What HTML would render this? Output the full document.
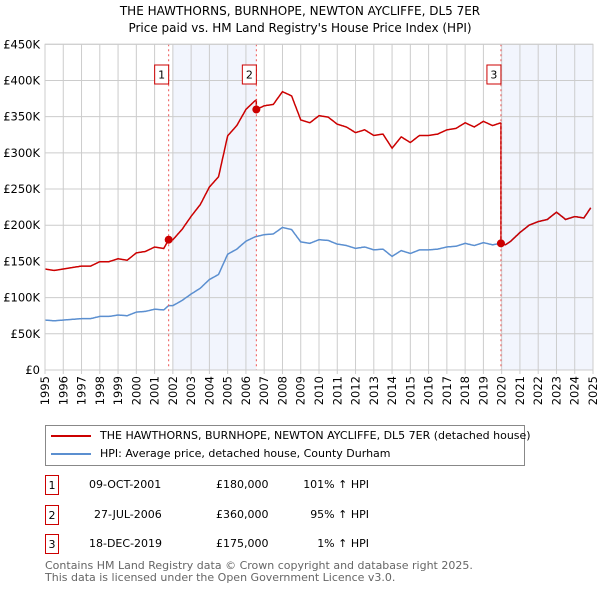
<!DOCTYPE html>
<html><head><meta charset="utf-8"><style>
body{margin:0;background:#fff;font-family:"DejaVu Sans","Liberation Sans",sans-serif;}
#wrap{position:relative;width:600px;height:590px;overflow:hidden;}
.t{position:absolute;font-size:11px;color:#000;white-space:nowrap}
.box{position:absolute;border:1.5px solid #c00;width:14px;height:20px;font-size:11px;text-align:center;line-height:19px;box-sizing:border-box}
</style></head><body><div id="wrap">
<svg id="chart" width="600" height="410" style="position:absolute;left:0;top:0"></svg>
<div style="position:absolute;left:45px;top:425px;width:480px;height:41px;border:1px solid #888;box-sizing:border-box">
 <div style="position:absolute;left:5px;top:3px;font-size:11px;white-space:nowrap"><span style="display:inline-block;width:40px;height:2px;background:#c00;vertical-align:middle;margin-right:9px"></span>THE HAWTHORNS, BURNHOPE, NEWTON AYCLIFFE, DL5 7ER (detached house)</div>
 <div style="position:absolute;left:5px;top:21px;font-size:11px;white-space:nowrap"><span style="display:inline-block;width:40px;height:2px;background:#5b8fd0;vertical-align:middle;margin-right:9px"></span>HPI: Average price, detached house, County Durham</div>
</div>
<div id="rows"></div>
<div class="t" style="left:45px;top:560px;color:#666;font-size:11px;line-height:11.5px">Contains HM Land Registry data © Crown copyright and database right 2025.<br>This data is licensed under the Open Government Licence v3.0.</div>
</div>
<script>
const hpiYears=[1995,1995.5,1996,1996.5,1997,1997.5,1998,1998.5,1999,1999.5,2000,2000.5,2001,2001.5,2001.77,2002,2002.5,2003,2003.5,2004,2004.5,2005,2005.5,2006,2006.5,2007,2007.5,2008,2008.5,2009,2009.5,2010,2010.5,2011,2011.5,2012,2012.5,2013,2013.5,2014,2014.5,2015,2015.5,2016,2016.5,2017,2017.5,2018,2018.5,2019,2019.5,2019.96,2020.2,2020.5,2021,2021.5,2022,2022.5,2023,2023.5,2024,2024.5,2024.9];
const hpiValues=[69,68,69,70,71,71,74,74,76,75,80,81,84,83,89,89,96,105,113,125,132,160,167,178,184,187,188,197,194,177,175,180,179,174,172,168,170,166,167,157,165,161,166,166,167,170,171,175,172,176,173,175,173,178,190,200,205,208,218,208,212,210,225];
const saleYears=[2001.77,2006.57,2019.96];
const salePrices=[180000,360000,175000];
const saleLabels=["1","2","3"];
const saleDates=["09-OCT-2001","27-JUL-2006","18-DEC-2019"];
const saleText=["£180,000","£360,000","£175,000"];
const saleHpi=["101% ↑ HPI","95% ↑ HPI","1% ↑ HPI"];
const yTicks=[0,50,100,150,200,250,300,350,400,450];
const xTicks=[];for(let y=1995;y<=2025;y++)xTicks.push(y);

const X0=45,X1=593,Y0=370,Y1=44.3;
const FF='DejaVu Sans, sans-serif';
const sx=y=>X0+(y-1995)/30*(X1-X0);
const sy=v=>Y0-v/450*(Y0-Y1);
const NS="http://www.w3.org/2000/svg";
const svg=document.getElementById('chart');
function mk(tag,attrs,parent){const e=document.createElementNS(NS,tag);for(const k in attrs)e.setAttribute(k,attrs[k]);(parent||svg).appendChild(e);return e;}
function hpiAt(t){for(let i=0;i<hpiYears.length-1;i++){if(t<=hpiYears[i+1]){const f=(t-hpiYears[i])/(hpiYears[i+1]-hpiYears[i]);return hpiValues[i]+f*(hpiValues[i+1]-hpiValues[i]);}}return hpiValues[hpiValues.length-1];}
let sh=mk('rect',{x:sx(2002),y:Y1,width:sx(saleYears[1])-sx(2002),height:Y0-Y1,fill:'#f2f5fd'});

sh=mk('rect',{x:sx(saleYears[2]),y:Y1,width:X1-sx(saleYears[2]),height:Y0-Y1,fill:'#f2f5fd'});

xTicks.forEach(y=>{const l=mk('line',{x1:sx(y),x2:sx(y),y1:Y1,y2:Y0+4,stroke:'#ccc','stroke-width':1});

const t=mk('text',{x:0,y:0,transform:`translate(${sx(y)+4},${Y0+6}) rotate(-90)`,'text-anchor':'end','font-size':11.5,'font-family':FF});t.textContent=y;
});
yTicks.forEach(v=>{const l=mk('line',{x1:X0,x2:X1,y1:sy(v),y2:sy(v),stroke:'#ccc','stroke-width':1});

const t=mk('text',{x:X0-5,y:sy(v)+4,'text-anchor':'end','font-size':11.5,'font-family':FF});t.textContent=v===0?'£0':'£'+v+'K';
});
const ts=[];for(let t=1995;t<=2024.9;t+=1/24)ts.push(t);
let bp='';ts.forEach((t,i)=>{bp+=(i?'L':'M')+sx(t).toFixed(1)+','+sy(hpiAt(t)).toFixed(1);});
const bl=mk('path',{d:bp,fill:'none',stroke:'#5b8fd0','stroke-width':1.5});

function ratio(t){let i=0;for(let k=0;k<saleYears.length;k++)if(t>=saleYears[k])i=k;return salePrices[i]/1000/hpiAt(saleYears[i]);}
const rts=ts.slice();saleYears.forEach(s=>{rts.push(s-0.0001);rts.push(s);});rts.sort((a,b)=>a-b);
let rp='';rts.forEach((t,i)=>{rp+=(i?'L':'M')+sx(t).toFixed(1)+','+sy(hpiAt(t)*ratio(t)).toFixed(1);});
const rl=mk('path',{d:rp,fill:'none',stroke:'#c00','stroke-width':1.5});

saleYears.forEach((s,i)=>{
const d=mk('line',{x1:sx(s),x2:sx(s),y1:Y1,y2:Y0,stroke:'#e55','stroke-width':1,'stroke-dasharray':'2,3'});

const c=mk('circle',{cx:sx(s),cy:sy(salePrices[i]/1000),r:4,fill:'#c00'});

const r=mk('rect',{x:sx(s)-14,y:65,width:14,height:19,fill:'#fff',stroke:'#c00'});

const t=mk('text',{x:sx(s)-7,y:78.5,'text-anchor':'middle','font-size':11,'font-family':FF});t.textContent=saleLabels[i];

});
const ax=mk('rect',{x:X0,y:Y1,width:X1-X0,height:Y0-Y1,fill:'none',stroke:'#ccc'});

let tt=mk('text',{x:300,y:15,'text-anchor':'middle','font-size':12,'font-family':FF});tt.textContent='THE HAWTHORNS, BURNHOPE, NEWTON AYCLIFFE, DL5 7ER';

tt=mk('text',{x:300,y:32,'text-anchor':'middle','font-size':12,'font-family':FF});tt.textContent="Price paid vs. HM Land Registry's House Price Index (HPI)";

const rows=document.getElementById('rows');const rowY=[475,505,534];
saleLabels.forEach((lab,i)=>{
const b=document.createElement('div');b.className='box';b.style.left='45px';b.style.top=rowY[i]+'px';b.textContent=lab;
rows.appendChild(b);
const cols=[[saleDates[i],89,'left'],[saleText[i],216,'left'],[saleHpi[i],369,'right']];
cols.forEach((c,j)=>{const e=document.createElement('div');e.className='t';e.style.top=(rowY[i]+3)+'px';
if(c[2]==='right'){e.style.right=(600-369)+'px';}else{e.style.left=(j===0&&i===1?94:c[1])+'px';}
e.textContent=c[0];

rows.appendChild(e);});
});
</script></body></html>
